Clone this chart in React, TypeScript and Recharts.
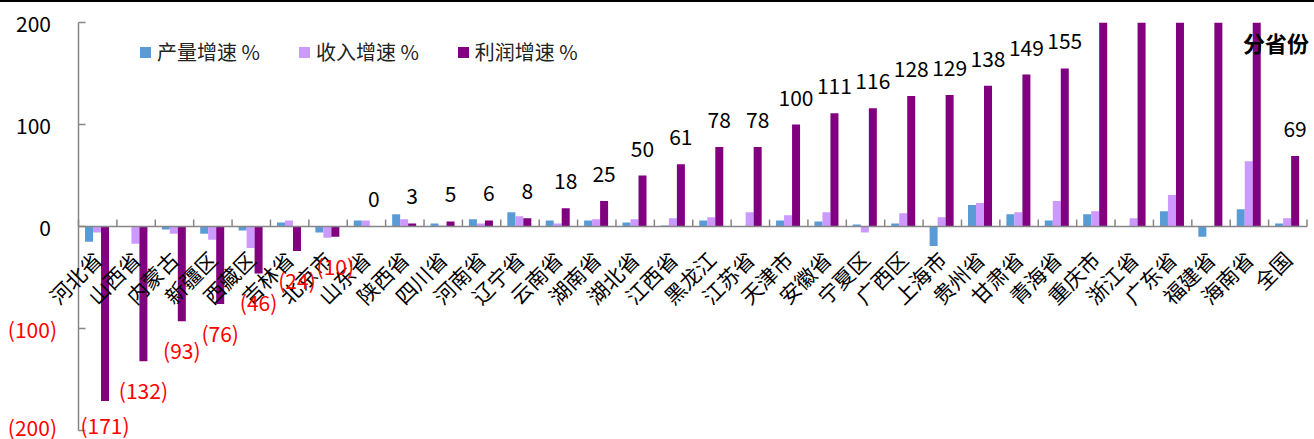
import { Bar, BarChart, XAxis, YAxis, ReferenceLine, LabelList } from "recharts"

const categories = [
  "河北省", "山西省", "内蒙古", "新疆区", "西藏区", "吉林省", "北京市", "山东省",
  "陕西省", "四川省", "河南省", "辽宁省", "云南省", "湖南省", "湖北省", "江西省",
  "黑龙江", "江苏省", "天津市", "安徽省", "宁夏区", "广西区", "上海市", "贵州省",
  "甘肃省", "青海省", "重庆市", "浙江省", "广东省", "福建省", "海南省", "全国",
]
// 产量增速 %
const outputGrowth = [
  -15, 0, -3, -7, -4, 4, -6, 6, 12, 3, 7, 14, 6, 6, 4, 1,
  6, 0, 6, 5, 2, 3, -19, 21, 12, 6, 12, 0, 15, -10, 17, 3,
]
// 收入增速 %
const revenueGrowth = [
  -6, -17, -7, -13, -21, 6, -11, 6, 7, 1, 3, 10, 3, 7, 7, 8,
  9, 14, 11, 14, -6, 13, 9, 23, 14, 25, 15, 8, 31, 0, 64, 8,
]
// 利润增速 % (bars past 200 are cut off at the axis top and carry no label)
const profitGrowth = [
  -171, -132, -93, -76, -46, -24, -10, 0.4, 3, 5, 6, 8, 18, 25, 50, 61,
  78, 78, 100, 111, 116, 128, 129, 138, 149, 155, 200, 200, 200, 200, 200, 69,
]
const yTicks = [-200, -100, 0, 100, 200]

const data = categories.map((name, i) => ({
  name,
  output: outputGrowth[i],
  revenue: revenueGrowth[i],
  profit: profitGrowth[i],
}))

const W = 1314
const H = 439
const TOP = 22.5
const BOTTOM = 8.5
const YW = 78
const LEFT = YW + 0.5
const RIGHT = 7
const XH = 1
const plotH = H - TOP - BOTTOM
const plotW = W - LEFT - RIGHT
const zeroY = TOP + plotH / 2
const band = plotW / categories.length
const FONT = "'Noto Sans CJK SC', 'Noto Sans', sans-serif"
const AXIS = "#868686"

const YTick = (props: any) => {
  const { y, payload } = props
  const v = payload.value
  const neg = v < 0
  return (
    <g>
      <line x1={LEFT} x2={LEFT + 7} y1={y} y2={y} stroke={AXIS} strokeWidth={1.5} />
      <text
        x={neg ? LEFT - 21.5 : LEFT - 27.5}
        y={v === -200 ? y - 4 : y}
        textAnchor="end"
        dominantBaseline="central"
        fontSize={21}
        fontFamily={FONT}
        fill={neg ? "#FF0000" : "#000"}
      >
        {neg ? `(${Math.abs(v)})` : v}
      </text>
    </g>
  )
}

const XTick = (props: any) => {
  const { x, payload, index } = props
  return (
    <g>
      <line x1={x - band / 2} x2={x - band / 2} y1={zeroY} y2={zeroY - 7} stroke={AXIS} strokeWidth={1.5} />
      {index === categories.length - 1 && (
        <line x1={x + band / 2} x2={x + band / 2} y1={zeroY} y2={zeroY - 7} stroke={AXIS} strokeWidth={1.5} />
      )}
      <text
        transform={`translate(${x + 6},${zeroY + 35}) rotate(-45)`}
        textAnchor="end"
        fontSize={21}
        fontFamily={FONT}
        fill="#000"
      >
        {payload.value}
      </text>
    </g>
  )
}

const ProfitLabel = (props: any) => {
  const { x, y, width, height, value } = props
  if (value >= 200) return null
  const cx = x + width / 2
  if (value < 0) {
    const end = Math.max(y, y + height)
    return (
      <text x={cx} y={Math.min(end + 29, 425)} textAnchor="middle" dominantBaseline="central"
        fontSize={21} fontFamily={FONT} fill="#FF0000">
        {`(${Math.abs(Math.round(value))})`}
      </text>
    )
  }
  const end = Math.min(y, y + height)
  return (
    <text x={cx} y={end - 28} textAnchor="middle" dominantBaseline="central"
      fontSize={21} fontFamily={FONT} fill="#000">
      {Math.round(value)}
    </text>
  )
}

const legendItems = [
  { label: "产量增速 %", color: "#5B9BD5" },
  { label: "收入增速 %", color: "#CC99FF" },
  { label: "利润增速 %", color: "#800080" },
]

export default function App() {
  return (
    <div style={{ position: "absolute", left: 0, top: 0, width: W, height: H, background: "#fff", overflow: "hidden", fontFamily: FONT }}>
      <div style={{ position: "absolute", left: 0, top: 0, width: W, height: 2, background: "#000" }} />
      <BarChart
        width={W}
        height={H}
        data={data}
        margin={{ top: TOP, right: RIGHT, bottom: BOTTOM - XH, left: 0.5 }}
        barGap={0}
        barCategoryGap="17%"
      >
        <XAxis dataKey="name" height={XH} axisLine={false} tickLine={false} interval={0} tick={<XTick />} />
        <YAxis
          width={YW}
          domain={[-200, 200]}
          ticks={yTicks}
          interval={0}
          allowDataOverflow
          axisLine={{ stroke: AXIS, strokeWidth: 1.5 }}
          tickLine={false}
          tick={<YTick />}
        />
        <ReferenceLine y={0} stroke={AXIS} strokeWidth={1.5} />
        <Bar dataKey="output" fill="#5B9BD5" isAnimationActive={false} />
        <Bar dataKey="revenue" fill="#CC99FF" isAnimationActive={false} />
        <Bar dataKey="profit" fill="#800080" isAnimationActive={false}>
          <LabelList dataKey="profit" content={<ProfitLabel />} />
        </Bar>
      </BarChart>
      <div style={{ position: "absolute", left: 140, top: 40, display: "flex", gap: 39, alignItems: "center" }}>
        {legendItems.map((it) => (
          <div key={it.label} style={{ display: "flex", alignItems: "center" }}>
            <span style={{ display: "inline-block", width: 11, height: 11, background: it.color, marginRight: 6 }} />
            <span style={{ fontSize: 20, lineHeight: "24px", color: "#222", whiteSpace: "nowrap" }}>{it.label}</span>
          </div>
        ))}
      </div>
      <div style={{ position: "absolute", left: 1243, top: 28, fontSize: 22, fontWeight: "bold", color: "#000", lineHeight: "28px", whiteSpace: "nowrap" }}>
        分省份
      </div>
    </div>
  )
}
